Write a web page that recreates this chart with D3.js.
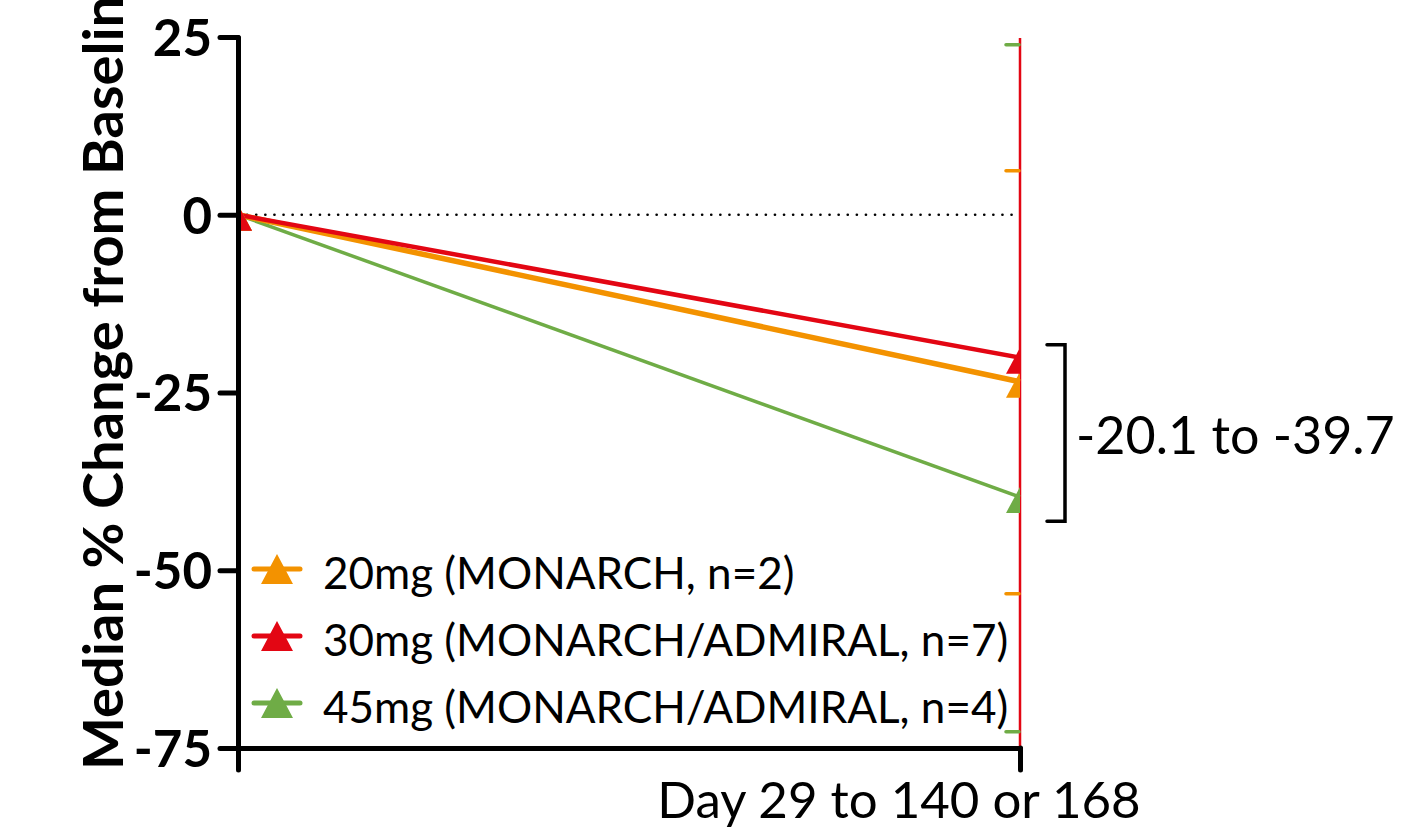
<!DOCTYPE html>
<html>
<head>
<meta charset="utf-8">
<script src="https://cdn.jsdelivr.net/npm/d3@7"></script>
<style>
  body { margin: 0; background: #fff; }
  svg { display: block; }
</style>
</head>
<body>
<svg width="1403" height="828"></svg>
<script>
// data
var timepoints = [0, 1]
var seriesNames = ["20mg (MONARCH, n=2)", "30mg (MONARCH/ADMIRAL, n=7)", "45mg (MONARCH/ADMIRAL, n=4)"]
var seriesColors = ["#F39200", "#E30613", "#6FAC46"]
var values20mg = [0, -23.5]
var values30mg = [0, -20.1]
var values45mg = [0, -39.7]
var yTicks = [25, 0, -25, -50, -75]
var yTitle = "Median % Change from Baseline"
var xTitle = "Day 29 to 140 or 168"
var rangeLabel = "-20.1 to -39.7"
var rangeBracket = [-18.3, -43.1]
var rightTickValues = [23.9, 6.2, -53.3, -72.7]
var rightTickColors = ["#6FAC46", "#F39200", "#F39200", "#6FAC46"]

var series = [
  {name: seriesNames[0], color: seriesColors[0], values: values20mg, width: 5.5},
  {name: seriesNames[1], color: seriesColors[1], values: values30mg, width: 4.5},
  {name: seriesNames[2], color: seriesColors[2], values: values45mg, width: 3.5}
]

var svg = d3.select("svg")

var x = d3.scaleLinear().domain([0, 1]).range([238, 1020])
var y = d3.scaleLinear().domain([-75, 25]).range([748, 37])

function triangle(w, h) {
  return "M0," + (-h / 2) + "L" + (w / 2) + "," + (h / 2) + "L" + (-w / 2) + "," + (h / 2) + "Z"
}

svg.append("clipPath").attr("id", "plot")
  .append("rect").attr("x", x(0)).attr("y", 0).attr("width", x(1) - x(0)).attr("height", 828)

// zero reference line
svg.append("line")
  .attr("x1", x(0)).attr("x2", x(1))
  .attr("y1", y(0)).attr("y2", y(0))
  .attr("stroke", "#000").attr("stroke-width", 2.6)
  .attr("stroke-linecap", "round")
  .attr("stroke-dasharray", "0.1 9")

// right axis (red) with stray ticks
svg.append("line")
  .attr("x1", x(1)).attr("x2", x(1))
  .attr("y1", 38).attr("y2", y(-75))
  .attr("stroke", "#E30613").attr("stroke-width", 2.5)

svg.selectAll(".rtick")
  .data(rightTickValues)
  .enter().append("line")
  .attr("class", "rtick")
  .attr("x1", x(1) - 14).attr("x2", x(1) - 1)
  .attr("y1", d => y(d)).attr("y2", d => y(d))
  .attr("stroke", (d, i) => rightTickColors[i])
  .attr("stroke-width", 3.5)
  .attr("stroke-linecap", "round")

// lines, drawn so red ends up on top
var drawOrder = [series[2], series[0], series[1]]
var line = d3.line().x((d, i) => x(timepoints[i])).y(d => y(d))

svg.selectAll(".series")
  .data(drawOrder)
  .enter().append("path")
  .attr("class", "series")
  .attr("d", d => line(d.values))
  .attr("fill", "none")
  .attr("stroke", d => d.color)
  .attr("stroke-width", d => d.width)

var markers = svg.append("g").attr("clip-path", "url(#plot)")
drawOrder.forEach(function(s) {
  markers.selectAll(null)
    .data(s.values)
    .enter().append("path")
    .attr("d", triangle(28, 26))
    .attr("transform", (d, i) => "translate(" + x(timepoints[i]) + "," + (y(d) + 3) + ")")
    .attr("fill", s.color)
})

// left axis
var yAxis = svg.append("g")
  .attr("transform", "translate(" + x(0) + ",0)")
  .call(d3.axisLeft(y).tickValues(yTicks).tickSize(18).tickSizeOuter(0).tickPadding(8)
    .tickFormat(d => String(d)))
yAxis.select(".domain").attr("stroke-width", 5).attr("stroke-linecap", "round")
yAxis.selectAll(".tick line").attr("stroke-width", 5).attr("stroke-linecap", "round")
yAxis.selectAll(".tick text")
  .attr("font-family", "Lato, sans-serif")
  .attr("font-weight", "bold")
  .attr("font-size", 51)
  .attr("fill", "#000")
  .attr("dy", "0.36em")

// bottom axis
var xAxis = svg.append("g")
  .attr("transform", "translate(0," + y(-75) + ")")
  .call(d3.axisBottom(x).tickValues(timepoints).tickSize(22).tickSizeOuter(0).tickFormat(""))
xAxis.select(".domain").attr("stroke-width", 5).attr("stroke-linecap", "round")
xAxis.selectAll(".tick line").attr("stroke-width", 5).attr("stroke-linecap", "round")

svg.append("text")
  .attr("x", 899).attr("y", 818)
  .attr("text-anchor", "middle")
  .attr("font-family", "Lato, sans-serif")
  .attr("font-size", 51)
  .text(xTitle)

svg.append("text")
  .attr("transform", "translate(123,770) rotate(-90)")
  .attr("font-family", "Lato, sans-serif")
  .attr("font-weight", "bold")
  .attr("font-size", 56)
  .text(yTitle)

// bracket and range label
svg.append("path")
  .attr("d", "M1047," + y(rangeBracket[0]) + "H1065V" + y(rangeBracket[1]) + "H1047")
  .attr("fill", "none")
  .attr("stroke", "#000")
  .attr("stroke-width", 3.5)
  .attr("stroke-linecap", "round")

svg.append("text")
  .attr("x", 1076).attr("y", 434)
  .attr("dominant-baseline", "central")
  .attr("font-family", "Lato, sans-serif")
  .attr("font-size", 52)
  .text(rangeLabel)

// legend
var legend = svg.selectAll(".legend")
  .data(series)
  .enter().append("g")
  .attr("class", "legend")
  .attr("transform", (d, i) => "translate(0," + (569 + i * 67) + ")")

legend.append("line")
  .attr("x1", 254).attr("x2", 300)
  .attr("stroke", d => d.color)
  .attr("stroke-width", 5)
  .attr("stroke-linecap", "round")

legend.append("path")
  .attr("d", triangle(32, 30))
  .attr("transform", "translate(277,0)")
  .attr("fill", d => d.color)

legend.append("text")
  .attr("x", 323).attr("y", 3)
  .attr("dominant-baseline", "central")
  .attr("font-family", "Lato, sans-serif")
  .attr("font-size", 44)
  .text(d => d.name)
</script>
</body>
</html>
